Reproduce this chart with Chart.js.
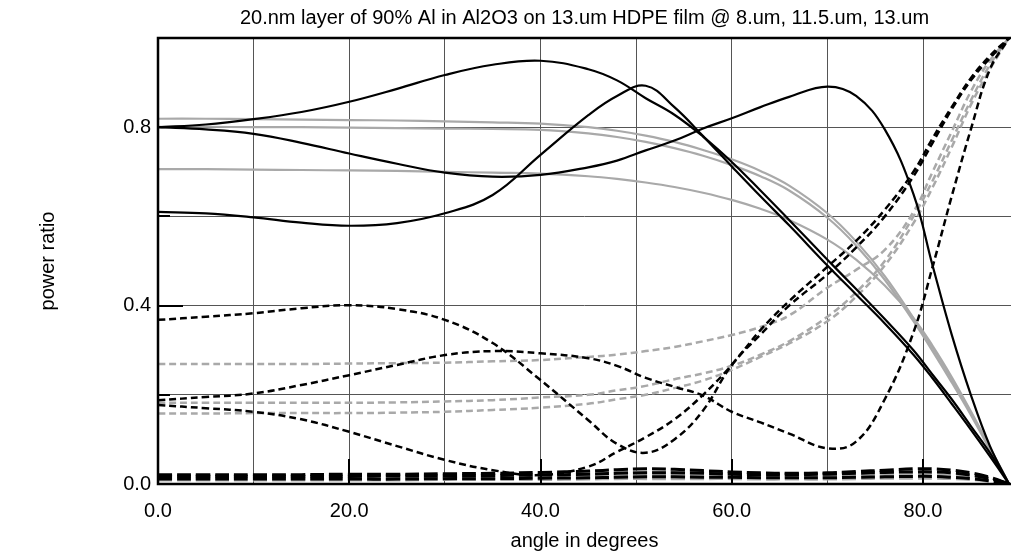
<!DOCTYPE html>
<html>
<head>
<meta charset="utf-8">
<script src="https://cdn.jsdelivr.net/npm/chart.js@4.4.0/dist/chart.umd.min.js"></script>
<style>
html,body{margin:0;padding:0;background:#fff;overflow:hidden}
#wrap{width:1011px;height:556px;position:relative}
</style>
</head>
<body>
<div id="wrap"><canvas id="c" width="1011" height="556"></canvas></div>
<script>
const chartTitle = '20.nm layer of 90% Al in Al2O3 on 13.um HDPE film @ 8.um, 11.5.um, 13.um';
const xTitle = 'angle in degrees';
const yTitle = 'power ratio';
const xLabelled = [0, 20, 40, 60, 80];
const yLabelled = [0, 0.4, 0.8];

const angles = [0,5,10,15,20,25,30,35,40,45,48,51,54,57,60,63,66,70,73,76,79,81,83,85,87,89];

// solid black
const transA = [0.800,0.806,0.818,0.834,0.857,0.886,0.917,0.940,0.949,0.930,0.905,0.865,0.828,0.779,0.722,0.658,0.592,0.503,0.437,0.370,0.300,0.245,0.190,0.130,0.070,0.0];
const transB = [0.800,0.795,0.785,0.765,0.741,0.718,0.698,0.689,0.693,0.710,0.725,0.748,0.770,0.797,0.820,0.845,0.868,0.891,0.870,0.795,0.650,0.490,0.335,0.200,0.085,0.0];
const transC = [0.610,0.607,0.598,0.586,0.579,0.585,0.607,0.648,0.738,0.827,0.870,0.893,0.845,0.780,0.712,0.645,0.580,0.490,0.425,0.360,0.290,0.237,0.180,0.122,0.062,0.0];
// solid grey
const transG1 = [0.819,0.819,0.818,0.817,0.816,0.815,0.813,0.811,0.808,0.800,0.792,0.781,0.767,0.749,0.728,0.702,0.669,0.607,0.544,0.466,0.372,0.305,0.235,0.160,0.080,0.0];
const transG2 = [0.801,0.801,0.800,0.800,0.799,0.798,0.797,0.796,0.794,0.786,0.778,0.767,0.753,0.736,0.715,0.690,0.658,0.597,0.535,0.458,0.365,0.298,0.228,0.155,0.077,0.0];
const transG3 = [0.706,0.706,0.705,0.704,0.703,0.702,0.700,0.698,0.696,0.690,0.684,0.676,0.666,0.653,0.637,0.617,0.592,0.548,0.503,0.445,0.372,0.310,0.240,0.163,0.082,0.0];
// short-dashed black
const reflA = [0.368,0.375,0.383,0.394,0.401,0.392,0.368,0.316,0.233,0.143,0.090,0.070,0.100,0.165,0.267,0.335,0.400,0.470,0.530,0.600,0.690,0.765,0.840,0.905,0.955,1.0];
const reflB = [0.188,0.195,0.203,0.222,0.244,0.267,0.289,0.298,0.293,0.282,0.265,0.238,0.218,0.198,0.162,0.138,0.113,0.080,0.095,0.190,0.340,0.487,0.645,0.795,0.930,1.0];
const reflC = [0.177,0.170,0.162,0.145,0.117,0.085,0.054,0.031,0.020,0.039,0.072,0.105,0.145,0.200,0.267,0.345,0.410,0.487,0.545,0.615,0.700,0.775,0.845,0.910,0.960,1.0];
// short-dashed grey
const reflG1 = [0.269,0.269,0.269,0.269,0.270,0.271,0.272,0.275,0.278,0.285,0.290,0.298,0.307,0.320,0.334,0.352,0.378,0.440,0.480,0.525,0.610,0.700,0.790,0.880,0.950,1.0];
const reflG2 = [0.182,0.182,0.182,0.182,0.182,0.183,0.185,0.188,0.194,0.200,0.210,0.220,0.235,0.248,0.265,0.290,0.320,0.375,0.430,0.500,0.600,0.680,0.770,0.860,0.940,1.0];
const reflG3 = [0.158,0.158,0.159,0.159,0.159,0.160,0.162,0.166,0.171,0.180,0.190,0.200,0.215,0.232,0.256,0.285,0.315,0.365,0.420,0.490,0.585,0.665,0.755,0.850,0.930,1.0];
// long-dashed black
const absA = [0.021,0.021,0.021,0.021,0.022,0.022,0.023,0.024,0.026,0.029,0.032,0.034,0.033,0.030,0.027,0.025,0.024,0.025,0.028,0.031,0.034,0.034,0.031,0.025,0.015,0.0];
const absB = [0.017,0.017,0.017,0.017,0.017,0.018,0.018,0.019,0.020,0.022,0.024,0.025,0.025,0.024,0.022,0.021,0.021,0.022,0.024,0.026,0.027,0.027,0.025,0.020,0.012,0.0];
const absC = [0.011,0.011,0.011,0.011,0.011,0.011,0.012,0.012,0.013,0.014,0.015,0.016,0.016,0.015,0.015,0.014,0.014,0.014,0.015,0.016,0.017,0.017,0.015,0.012,0.007,0.0];
// long-dashed grey
const absG1 = [0.019,0.019,0.019,0.019,0.019,0.020,0.020,0.021,0.022,0.024,0.026,0.027,0.027,0.026,0.024,0.023,0.023,0.024,0.026,0.028,0.029,0.029,0.027,0.022,0.013,0.0];
const absG2 = [0.014,0.014,0.014,0.014,0.014,0.014,0.015,0.015,0.016,0.017,0.018,0.019,0.019,0.018,0.018,0.017,0.017,0.018,0.019,0.020,0.021,0.021,0.019,0.016,0.010,0.0];
const absG3 = [0.009,0.009,0.009,0.009,0.009,0.009,0.010,0.010,0.010,0.011,0.012,0.012,0.012,0.012,0.012,0.011,0.011,0.011,0.012,0.013,0.013,0.013,0.012,0.010,0.006,0.0];

const BLACK = '#000000';
const GREY = '#a9a9a9';
const FONT = "'Liberation Sans', Arial, Helvetica, sans-serif";

function pts(arr){ return angles.map((a,i)=>({x:a, y:arr[i]})); }
function ds(arr, color, kind){
  const base = {data: pts(arr), borderColor: color, backgroundColor: color, fill:false,
    pointRadius:0, tension:0.4, borderCapStyle:'butt',
    order: color === BLACK ? 0 : 1};
  if (kind === 'solid') { base.borderWidth = 2.2; base.borderDash = []; }
  if (kind === 'short') { base.borderWidth = 2.5; base.borderDash = [7,4]; }
  if (kind === 'long')  { base.borderWidth = 3;   base.borderDash = [14,5]; }
  return base;
}

const datasets = [
  ds(transA, BLACK, 'solid'), ds(transB, BLACK, 'solid'), ds(transC, BLACK, 'solid'),
  ds(reflA, BLACK, 'short'), ds(reflB, BLACK, 'short'), ds(reflC, BLACK, 'short'),
  ds(absA, BLACK, 'long'), ds(absB, BLACK, 'long'), ds(absC, BLACK, 'long'),
  ds(transG1, GREY, 'solid'), ds(transG2, GREY, 'solid'), ds(transG3, GREY, 'solid'),
  ds(reflG1, GREY, 'short'), ds(reflG2, GREY, 'short'), ds(reflG3, GREY, 'short'),
  ds(absG1, GREY, 'long'), ds(absG2, GREY, 'long'), ds(absG3, GREY, 'long')
];

const framePlugin = {
  id: 'frame',
  afterDraw(chart){
    const {ctx, chartArea:{left, top, right, bottom}, scales:{x, y}} = chart;
    ctx.save();
    ctx.strokeStyle = '#000';
    ctx.lineWidth = 2.5;
    ctx.beginPath();
    ctx.moveTo(right + 2, top); ctx.lineTo(left, top);
    ctx.lineTo(left, bottom); ctx.lineTo(right + 2, bottom);
    ctx.stroke();
    ctx.lineWidth = 2;
    ctx.beginPath();
    [20,40,60,80].forEach(v => { const px = Math.round(x.getPixelForValue(v)); ctx.moveTo(px, bottom); ctx.lineTo(px, bottom - 25); });
    [0.4, 0.8].forEach(v => { const py = Math.round(y.getPixelForValue(v)); ctx.moveTo(left, py); ctx.lineTo(left + 25, py); });
    [0.2, 0.6, 1.0].forEach(v => { const py = Math.round(y.getPixelForValue(v)); ctx.moveTo(left, py); ctx.lineTo(left + 12, py); });
    ctx.moveTo(left, bottom); ctx.lineTo(left + 25, bottom);
    ctx.stroke();
    ctx.restore();
  }
};

new Chart(document.getElementById('c'), {
  type: 'line',
  data: { datasets },
  options: {
    responsive: false,
    animation: false,
    devicePixelRatio: 1,
    layout: { padding: { left: 0, right: 0, top: 0, bottom: 0 } },
    plugins: {
      legend: { display: false },
      tooltip: { enabled: false },
      title: { display: true, fullSize: false, text: chartTitle, color: '#000',
        font: { family: FONT, size: 20, weight: 'normal', lineHeight: 1.2 },
        padding: { top: 6, bottom: 8 } }
    },
    scales: {
      x: {
        type: 'linear', min: 0, max: 89.2,
        border: { display: false },
        grid: { color: '#555', lineWidth: 1, drawTicks: false },
        ticks: { stepSize: 10, includeBounds: false, autoSkip: false, maxRotation: 0, padding: 15,
          color: '#000', font: { family: FONT, size: 20 },
          callback: v => (xLabelled.includes(Math.round(v)) ? Number(v).toFixed(1) : '') },
        title: { display: true, text: xTitle, color: '#000', font: { family: FONT, size: 20 }, padding: { top: 0, bottom: 3 } },
        afterFit: s => { s.height = 72; }
      },
      y: {
        type: 'linear', min: 0, max: 1,
        border: { display: false },
        grid: { color: '#555', lineWidth: 1, drawTicks: false },
        ticks: { stepSize: 0.2, color: '#000', padding: 7, font: { family: FONT, size: 20 },
          callback: v => { const r = Math.round(v * 10) / 10; return yLabelled.includes(r) ? r.toFixed(1) : ''; } },
        title: { display: true, text: yTitle, color: '#000', font: { family: FONT, size: 20 }, padding: { top: 36, bottom: 0 } },
        afterFit: s => { s.width = 158; }
      }
    }
  },
  plugins: [framePlugin]
});
</script>
</body>
</html>
